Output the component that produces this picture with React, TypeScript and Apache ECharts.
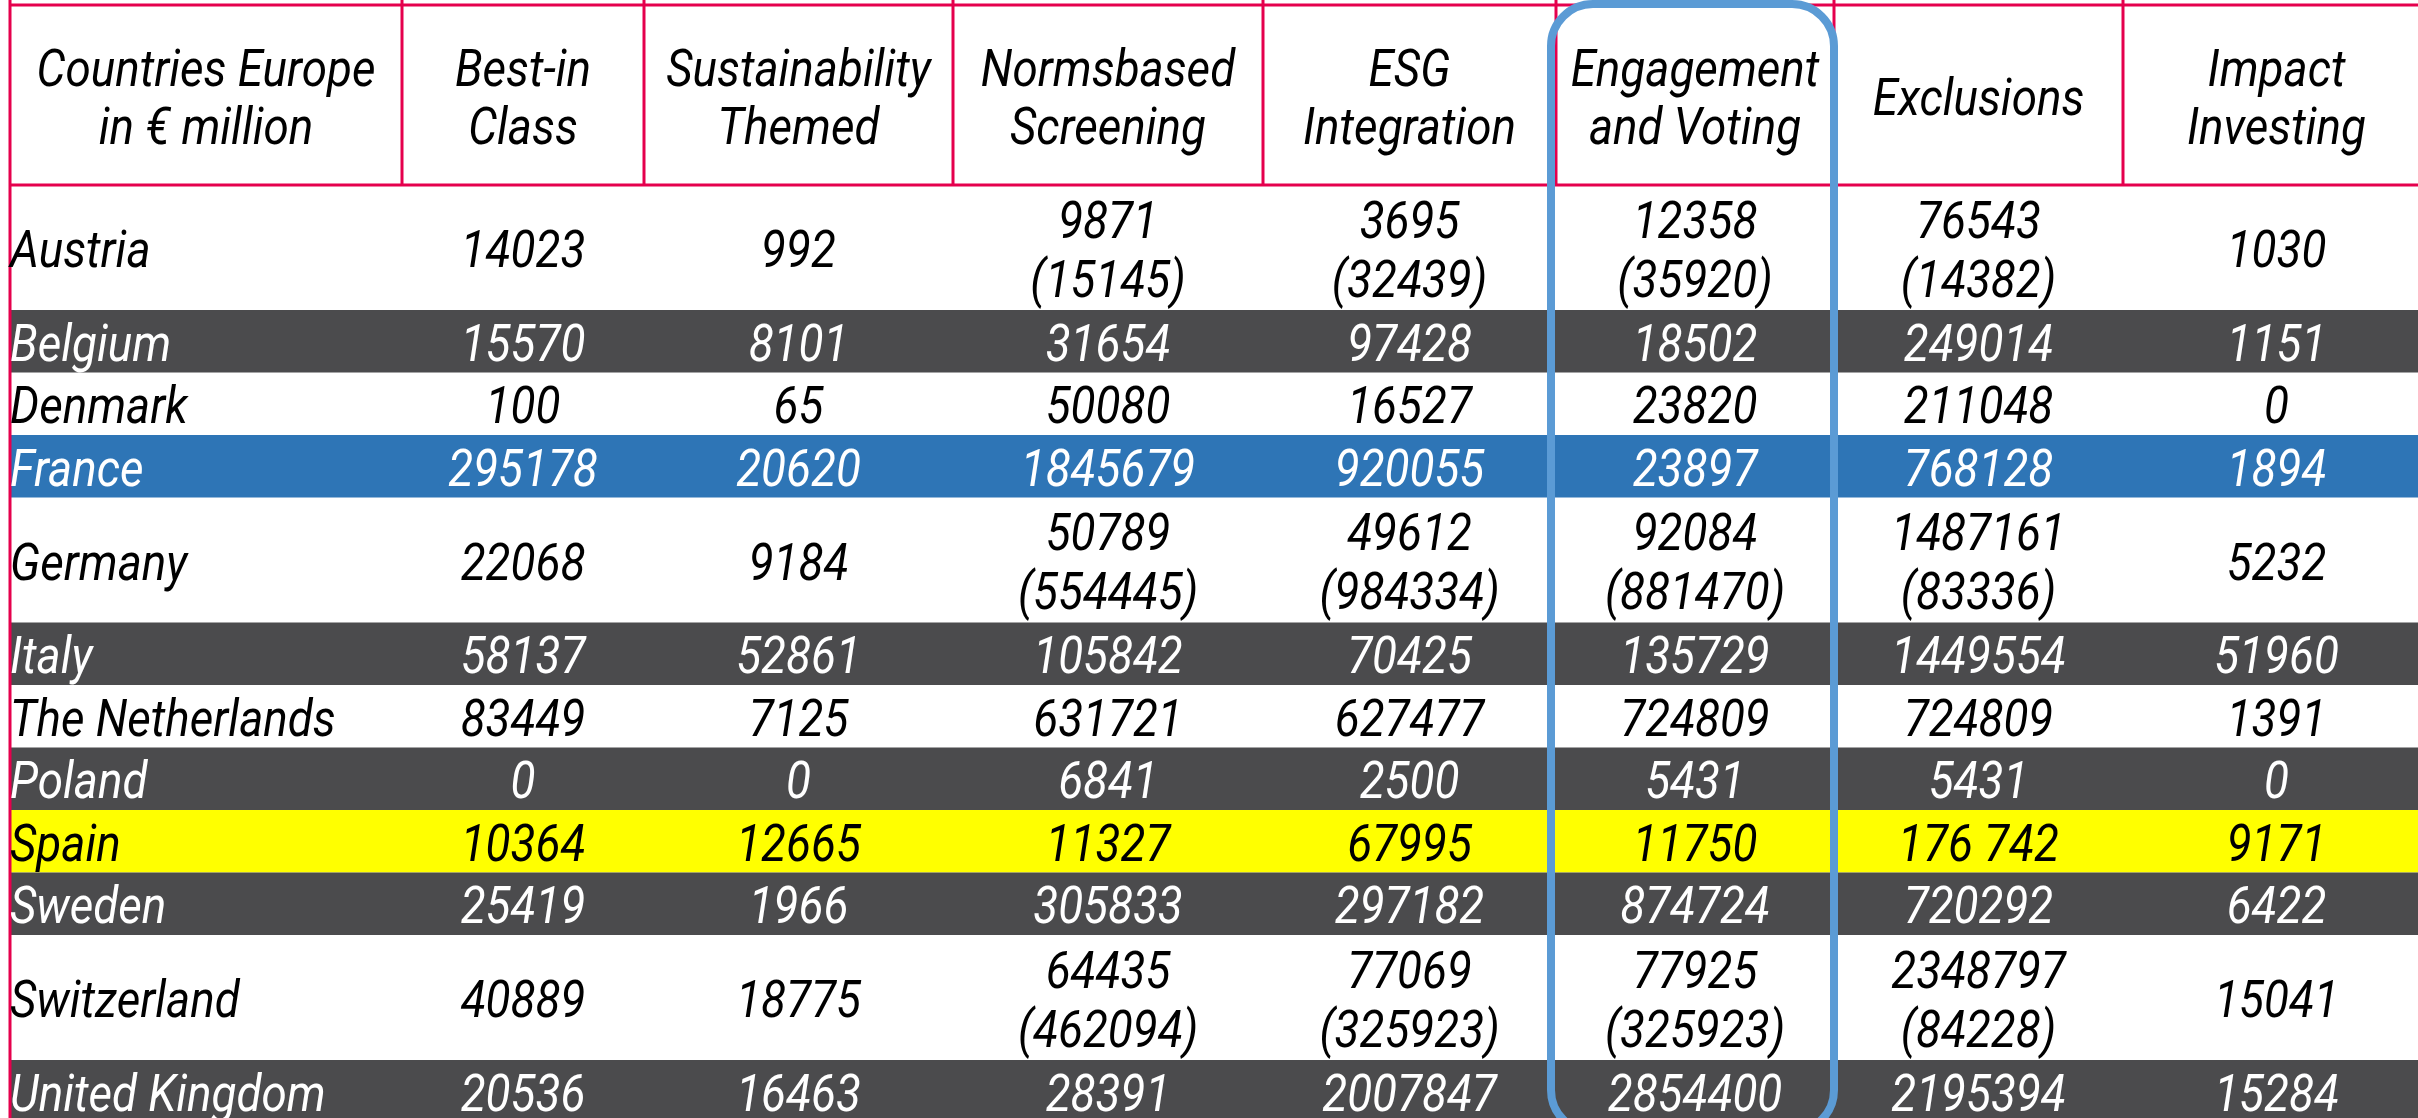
import React, { useEffect, useRef } from "react";
import * as echarts from "echarts";

const headers = [
  "Countries Europe\nin € million",
  "Best-in\nClass",
  "Sustainability\nThemed",
  "Normsbased\nScreening",
  "ESG\nIntegration",
  "Engagement\nand Voting",
  "Exclusions",
  "Impact\nInvesting",
];

const countries = [
  "Austria", "Belgium", "Denmark", "France", "Germany", "Italy",
  "The Netherlands", "Poland", "Spain", "Sweden", "Switzerland", "United Kingdom",
];

const bestInClass = ["14023", "15570", "100", "295178", "22068", "58137", "83449", "0", "10364", "25419", "40889", "20536"];
const sustainabilityThemed = ["992", "8101", "65", "20620", "9184", "52861", "7125", "0", "12665", "1966", "18775", "16463"];
const normsbasedScreening = ["9871\n(15145)", "31654", "50080", "1845679", "50789\n(554445)", "105842", "631721", "6841", "11327", "305833", "64435\n(462094)", "28391"];
const esgIntegration = ["3695\n(32439)", "97428", "16527", "920055", "49612\n(984334)", "70425", "627477", "2500", "67995", "297182", "77069\n(325923)", "2007847"];
const engagementVoting = ["12358\n(35920)", "18502", "23820", "23897", "92084\n(881470)", "135729", "724809", "5431", "11750", "874724", "77925\n(325923)", "2854400"];
const exclusions = ["76543\n(14382)", "249014", "211048", "768128", "1487161\n(83336)", "1449554", "724809", "5431", "176 742", "720292", "2348797\n(84228)", "2195394"];
const impactInvesting = ["1030", "1151", "0", "1894", "5232", "51960", "1391", "0", "9171", "6422", "15041", "15284"];

// row style: w = white, g = dark grey, b = blue, y = yellow
const rowStyles = ["w", "g", "w", "b", "w", "g", "w", "g", "y", "g", "w", "g"];
// row size in units (1 = single line, 2 = double line)
const rowUnits = [2, 1, 1, 1, 2, 1, 1, 1, 1, 1, 2, 1];

const columns = [countries, bestInClass, sustainabilityThemed, normsbasedScreening, esgIntegration, engagementVoting, exclusions, impactInvesting];

const W = 2418;
const H = 1118;
const colEdges = [10, 402, 644, 953, 1263, 1556, 1834, 2123, 2430];
const headerTop = 5;
const headerBottom = 185;
const unitH = 62.5;
const PINK = "#e5004d";
const BG: Record<string, string> = { w: "#ffffff", g: "#4b4b4d", b: "#2e75b6", y: "#ffff00" };
const FG: Record<string, string> = { w: "#000000", g: "#ffffff", b: "#ffffff", y: "#000000" };
const FONT = { fontFamily: "Roboto", fontStyle: "italic", fontSize: 52 };
const SX = 0.88;

function buildGraphic() {
  const els: any[] = [];
  // row backgrounds
  let y = headerBottom;
  const rowTops: number[] = [];
  rowUnits.forEach((u, i) => {
    rowTops.push(y);
    const h = u * unitH;
    if (rowStyles[i] !== "w") {
      els.push({
        type: "rect", z: 1,
        shape: { x: 11, y, width: W - 11, height: h },
        style: { fill: BG[rowStyles[i]] },
      });
    }
    y += h;
  });
  // pink grid lines
  els.push({ type: "line", z: 2, shape: { x1: colEdges[0], y1: headerTop, x2: W, y2: headerTop }, style: { stroke: PINK, lineWidth: 3 } });
  els.push({ type: "line", z: 2, shape: { x1: colEdges[0], y1: headerBottom, x2: W, y2: headerBottom }, style: { stroke: PINK, lineWidth: 3 } });
  els.push({ type: "line", z: 2, shape: { x1: colEdges[0], y1: 0, x2: colEdges[0], y2: H }, style: { stroke: PINK, lineWidth: 3 } });
  for (let c = 1; c < colEdges.length; c++) {
    els.push({ type: "line", z: 2, shape: { x1: colEdges[c], y1: 0, x2: colEdges[c], y2: headerBottom }, style: { stroke: PINK, lineWidth: 3 } });
  }
  // headers
  headers.forEach((h, c) => {
    const cx = (colEdges[c] + colEdges[c + 1]) / 2;
    els.push({
      type: "text", z: 3, x: cx, y: (headerTop + headerBottom) / 2 + 2, scaleX: SX,
      style: { ...FONT, text: h, fill: "#000", align: "center", verticalAlign: "middle", lineHeight: 58 },
    });
  });
  // cells
  columns.forEach((col, c) => {
    col.forEach((v, r) => {
      const h = rowUnits[r] * unitH;
      const cy = rowTops[r] + h / 2 + 2;
      const isFirst = c === 0;
      const cx = isFirst ? 10 : (colEdges[c] + colEdges[c + 1]) / 2;
      els.push({
        type: "text", z: 3, x: cx, y: cy, scaleX: SX,
        style: { ...FONT, text: v, fill: FG[rowStyles[r]], align: isFirst ? "left" : "center", verticalAlign: "middle", lineHeight: 59 },
      });
    });
  });
  // highlight box around Engagement and Voting
  els.push({
    type: "rect", z: 4,
    shape: { x: 1551, y: 4, width: 283, height: 1128, r: 42 },
    style: { fill: "none", stroke: "#5b9bd5", lineWidth: 8 },
  });
  return els;
}

export default function App() {
  const ref = useRef<HTMLDivElement>(null);
  useEffect(() => {
    document.body.style.margin = "0";
    const chart = echarts.init(ref.current!, null, { renderer: "svg", width: W, height: H });
    chart.setOption({
      animation: false,
      backgroundColor: "#ffffff",
      graphic: { elements: buildGraphic() },
    });
    return () => chart.dispose();
  }, []);
  return <div ref={ref} style={{ position: "fixed", left: 0, top: 0, width: W, height: H }} />;
}
